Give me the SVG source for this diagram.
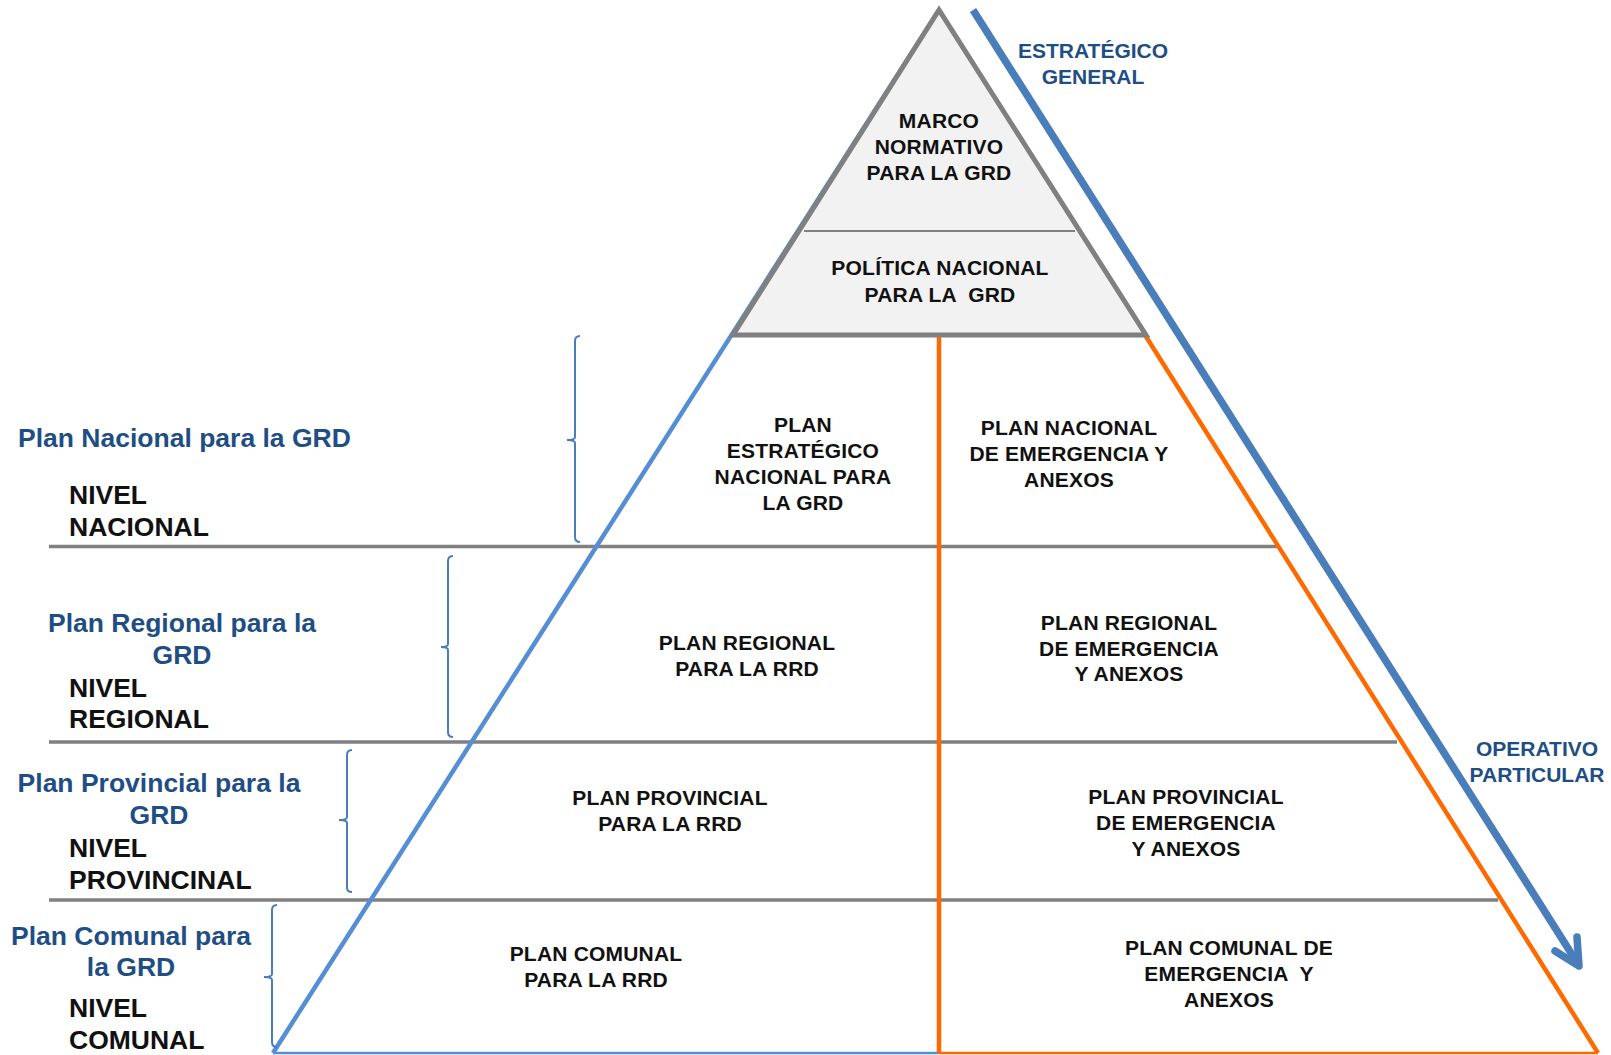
<svg xmlns="http://www.w3.org/2000/svg" width="1611" height="1055" viewBox="0 0 1611 1055">
<style>
.t{font-family:"Liberation Sans",Arial,sans-serif;font-weight:bold;fill:#111;font-size:21px;text-anchor:middle;white-space:pre;letter-spacing:0.2px}
.lb{font-family:"Liberation Sans",Arial,sans-serif;font-weight:bold;fill:#1F4E85;font-size:26.5px;white-space:pre}
.nv{font-family:"Liberation Sans",Arial,sans-serif;font-weight:bold;fill:#111;font-size:26.5px}
.bt{font-family:"Liberation Sans",Arial,sans-serif;font-weight:bold;fill:#1F4E85;font-size:21px;text-anchor:middle}
.h{stroke:#808080;stroke-width:3.5;fill:none}
.br{stroke:#4A7EBB;stroke-width:2;fill:none}
</style>
<rect width="1611" height="1055" fill="#fff"/>
<g id="connectors">
  <line class="h" x1="49" y1="546.5" x2="1279" y2="546.5"/>
  <line class="h" x1="49" y1="742" x2="1397" y2="742"/>
  <line class="h" x1="49" y1="900" x2="1498" y2="900"/>
  <line x1="273" y1="1053" x2="939" y2="10" stroke="#558ED5" stroke-width="4.5"/>
  <line x1="273" y1="1053" x2="939" y2="1053" stroke="#558ED5" stroke-width="2.5"/>
  <line x1="939" y1="1053" x2="1598" y2="1053" stroke="#FF6A00" stroke-width="2.5"/>
  <line x1="1598" y1="1053" x2="1145" y2="335" stroke="#FF6A00" stroke-width="4.5"/>
  <line x1="939" y1="335" x2="939" y2="1053" stroke="#FF6A00" stroke-width="4.5"/>
  <path d="M 580 336 Q 575 336 575 341 L 575 437 Q 575 440 567 440 Q 575 440 575 443 L 575 537 Q 575 542 580 542" class="br"/>
  <path d="M 453 556 Q 448 556 448 561 L 448 644 Q 448 647 441 647 Q 448 647 448 650 L 448 732 Q 448 737 453 737" class="br"/>
  <path d="M 352 750 Q 347 750 347 755 L 347 817 Q 347 820 339 820 Q 347 820 347 823 L 347 888 Q 347 892 352 892" class="br"/>
  <path d="M 277 905 Q 272 905 272 910 L 272 974 Q 272 977 264 977 Q 272 977 272 980 L 272 1042 Q 272 1047 277 1047" class="br"/>
</g>
<g id="apex">
  <polygon points="939,10 733,335 1146,335" fill="#F2F2F2" stroke="#808080" stroke-width="5" stroke-linejoin="miter"/>
  <line x1="804" y1="231" x2="1075" y2="231" stroke="#808080" stroke-width="1.8"/>
</g>
<g id="arrow">
  <line x1="973" y1="10" x2="1578" y2="964" stroke="#4A7EBB" stroke-width="7.5"/>
  <polyline points="1577,937 1579,966 1555,951" fill="none" stroke="#4A7EBB" stroke-width="7.5" stroke-linecap="round" stroke-linejoin="round"/>
</g>
<g id="n-marco"><text class="t" x="939" y="128">MARCO</text><text class="t" x="939" y="154">NORMATIVO</text><text class="t" x="939" y="180">PARA LA GRD</text></g>
<g id="n-politica"><text class="t" x="940" y="275">POLÍTICA NACIONAL</text><text class="t" x="940" y="302">PARA LA  GRD</text></g>
<g id="n-estr-nac"><text class="t" x="803" y="432">PLAN</text><text class="t" x="803" y="458">ESTRATÉGICO</text><text class="t" x="803" y="484">NACIONAL PARA</text><text class="t" x="803" y="510">LA GRD</text></g>
<g id="n-emerg-nac"><text class="t" x="1069" y="435">PLAN NACIONAL</text><text class="t" x="1069" y="461">DE EMERGENCIA Y</text><text class="t" x="1069" y="487">ANEXOS</text></g>
<g id="n-reg"><text class="t" x="747" y="650">PLAN REGIONAL</text><text class="t" x="747" y="676">PARA LA RRD</text></g>
<g id="n-emerg-reg"><text class="t" x="1129" y="630">PLAN REGIONAL</text><text class="t" x="1129" y="656">DE EMERGENCIA</text><text class="t" x="1129" y="681">Y ANEXOS</text></g>
<g id="n-prov"><text class="t" x="670" y="805">PLAN PROVINCIAL</text><text class="t" x="670" y="831">PARA LA RRD</text></g>
<g id="n-emerg-prov"><text class="t" x="1186" y="804">PLAN PROVINCIAL</text><text class="t" x="1186" y="830">DE EMERGENCIA</text><text class="t" x="1186" y="856">Y ANEXOS</text></g>
<g id="n-com"><text class="t" x="596" y="961">PLAN COMUNAL</text><text class="t" x="596" y="987">PARA LA RRD</text></g>
<g id="n-emerg-com"><text class="t" x="1229" y="955">PLAN COMUNAL DE</text><text class="t" x="1229" y="981">EMERGENCIA  Y</text><text class="t" x="1229" y="1007">ANEXOS</text></g>
<g id="l-estrategico"><text class="bt" x="1093" y="58">ESTRATÉGICO</text><text class="bt" x="1093" y="84">GENERAL</text></g>
<g id="l-operativo"><text class="bt" x="1537" y="756">OPERATIVO</text><text class="bt" x="1537" y="782">PARTICULAR</text></g>
<g id="l-nacional"><text class="lb" x="18" y="447">Plan Nacional para la GRD</text><text class="nv" x="69" y="504">NIVEL</text><text class="nv" x="69" y="536">NACIONAL</text></g>
<g id="l-regional"><text class="lb" x="182" y="632" text-anchor="middle">Plan Regional para la</text><text class="lb" x="182" y="664" text-anchor="middle">GRD</text><text class="nv" x="69" y="697">NIVEL</text><text class="nv" x="69" y="728">REGIONAL</text></g>
<g id="l-provincial"><text class="lb" x="159" y="792" text-anchor="middle">Plan Provincial para la</text><text class="lb" x="159" y="824" text-anchor="middle">GRD</text><text class="nv" x="69" y="857">NIVEL</text><text class="nv" x="69" y="889">PROVINCINAL</text></g>
<g id="l-comunal"><text class="lb" x="131" y="945" text-anchor="middle">Plan Comunal para</text><text class="lb" x="131" y="976" text-anchor="middle">la GRD</text><text class="nv" x="69" y="1017">NIVEL</text><text class="nv" x="69" y="1049">COMUNAL</text></g>
</svg>
